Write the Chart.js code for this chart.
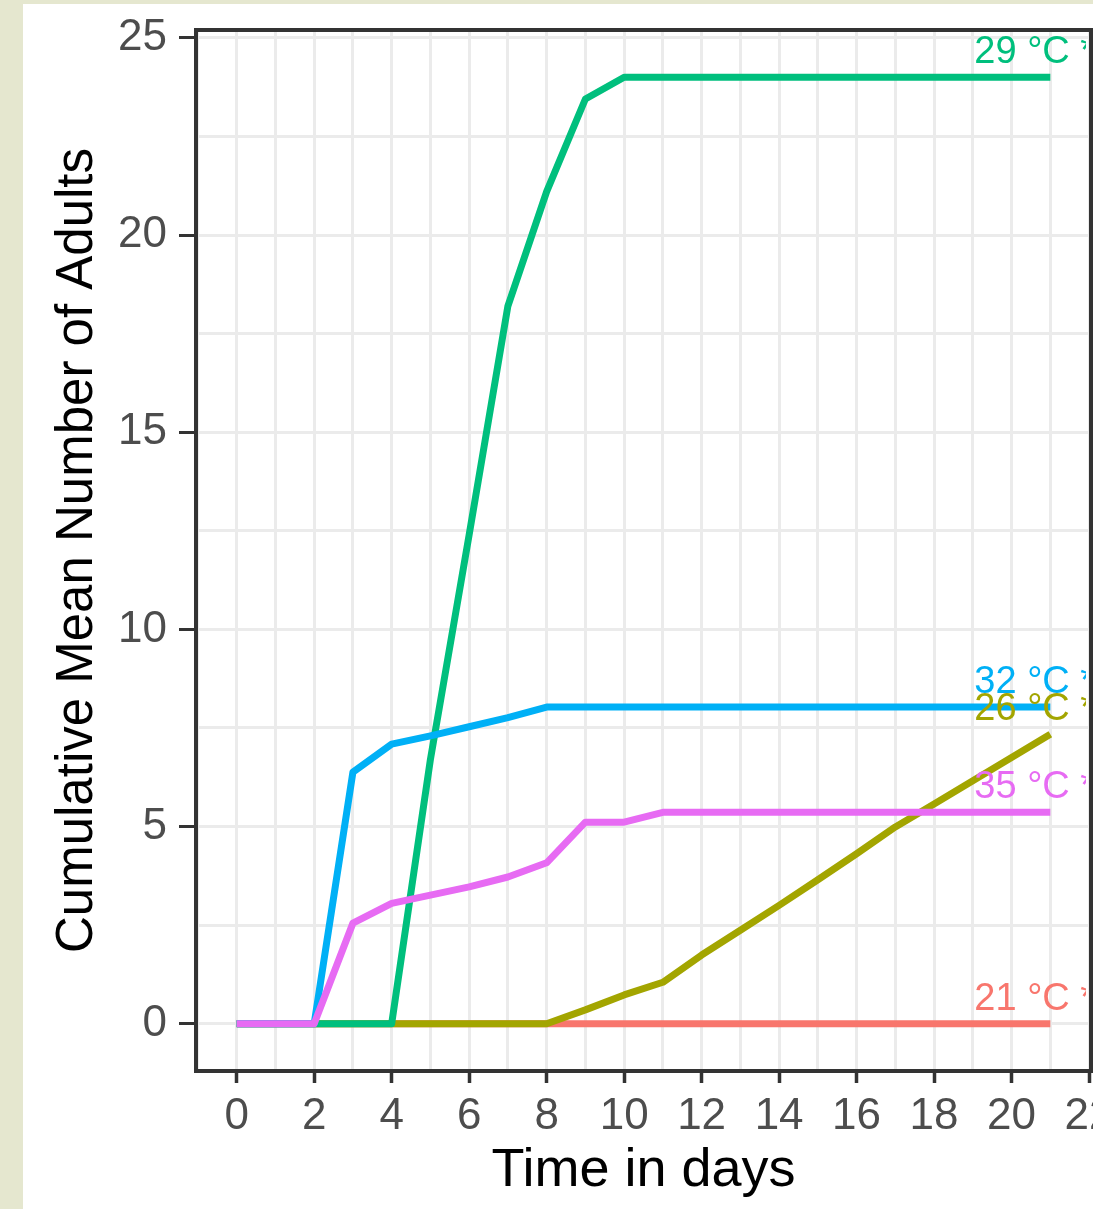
<!DOCTYPE html>
<html>
<head>
<meta charset="utf-8">
<script src="https://cdn.jsdelivr.net/npm/chart.js@4.4.1/dist/chart.umd.min.js"></script>
<style>
  html, body { margin: 0; padding: 0; background: #e5e7cf; overflow: hidden; }
  #wrap { position: absolute; left: 23px; top: 4px; width: 1110px; height: 1205px; background: #ffffff; }
</style>
</head>
<body>
<div id="wrap"><canvas id="adultsChart" width="1110" height="1205"></canvas></div>
<script>
const days = [0, 1, 2, 3, 4, 5, 6, 7, 8, 9, 10, 11, 12, 13, 14, 15, 16, 17, 18, 19, 20, 21];
const temperatures = ['21 °C', '26 °C', '29 °C', '32 °C', '35 °C'];
const colors = ['#F8766D', '#A3A500', '#00BF7D', '#00B0F6', '#E76BF3'];
const lineLabels = ['21 °C *', '26 °C *', '29 °C *', '32 °C *', '35 °C *'];

const adults21 = [0, 0, 0, 0, 0, 0, 0, 0, 0, 0, 0, 0, 0, 0, 0, 0, 0, 0, 0, 0, 0, 0];
const adults26 = [0, 0, 0, 0, 0, 0, 0, 0, 0, 0.35, 0.73, 1.05, 1.74, 2.37, 3.0, 3.65, 4.31, 4.99, 5.57, 6.16, 6.75, 7.34];
const adults29 = [0, 0, 0, 0, 0, 6.7, 12.4, 18.2, 21.1, 23.45, 24, 24, 24, 24, 24, 24, 24, 24, 24, 24, 24, 24];
const adults32 = [0, 0, 0, 6.38, 7.09, 7.3, 7.53, 7.76, 8.03, 8.03, 8.03, 8.03, 8.03, 8.03, 8.03, 8.03, 8.03, 8.03, 8.03, 8.03, 8.03, 8.03];
const adults35 = [0, 0, 0, 2.55, 3.05, 3.26, 3.47, 3.72, 4.08, 5.11, 5.11, 5.36, 5.36, 5.36, 5.36, 5.36, 5.36, 5.36, 5.36, 5.36, 5.36, 5.36];

const allSeries = [adults21, adults26, adults29, adults32, adults35];

const FONT = "'Liberation Sans', Arial, sans-serif";

// labels at the line ends + panel border
const panelPlugin = {
  id: 'panel',
  afterDatasetsDraw(chart) {
    const { ctx, chartArea, scales } = chart;
    ctx.save();
    ctx.beginPath();
    ctx.rect(chartArea.left, chartArea.top, chartArea.right - chartArea.left - 5, chartArea.bottom - chartArea.top);
    ctx.clip();
    ctx.font = '38px ' + FONT;
    ctx.textAlign = 'left';
    ctx.textBaseline = 'alphabetic';
    allSeries.forEach((vals, i) => {
      const last = vals[vals.length - 1];
      ctx.fillStyle = colors[i];
      ctx.fillText(lineLabels[i], scales.x.getPixelForValue(days[days.length - 1]) - 76, scales.y.getPixelForValue(last) - 14);
    });
    ctx.restore();

    ctx.save();
    ctx.strokeStyle = '#333333';
    ctx.lineWidth = 4;
    ctx.strokeRect(chartArea.left, chartArea.top, chartArea.right - chartArea.left, chartArea.bottom - chartArea.top);
    ctx.restore();
  }
};

const ctx = document.getElementById('adultsChart').getContext('2d');
new Chart(ctx, {
  type: 'line',
  data: {
    labels: days,
    datasets: temperatures.map((t, i) => ({
      label: t,
      data: days.map((d, k) => ({ x: d, y: allSeries[i][k] })),
      borderColor: colors[i],
      backgroundColor: colors[i],
      borderWidth: 7,
      borderCapStyle: 'butt',
      borderJoinStyle: 'round',
      pointRadius: 0,
      tension: 0,
      order: temperatures.length - i
    }))
  },
  options: {
    responsive: false,
    animation: false,
    events: [],
    layout: { padding: { left: 0, right: 42, top: 26, bottom: 0 } },
    plugins: { legend: { display: false }, tooltip: { enabled: false } },
    scales: {
      x: {
        type: 'linear',
        min: -1.05,
        max: 22.05,
        afterFit(scale) { scale.height = 138; },
        ticks: {
          stepSize: 1,
          includeBounds: false,
          autoSkip: false,
          maxRotation: 0,
          padding: 7,
          color: '#4d4d4d',
          font: { family: FONT, size: 44 },
          callback: (v) => (v % 2 === 0 ? String(v) : '')
        },
        grid: {
          color: '#ebebeb',
          lineWidth: 3,
          tickLength: 12,
          tickWidth: 3.5,
          tickColor: (c) => (c.tick && c.tick.value % 2 === 0 ? '#333333' : 'rgba(0,0,0,0)')
        },
        border: { display: false },
        title: {
          display: true,
          text: 'Time in days',
          color: '#000000',
          font: { family: FONT, size: 54 },
          padding: { top: 0, bottom: 5 }
        }
      },
      y: {
        type: 'linear',
        min: -1.2,
        max: 25.2,
        afterFit(scale) { scale.width = 173; },
        ticks: {
          stepSize: 2.5,
          includeBounds: false,
          autoSkip: false,
          padding: 12,
          color: '#4d4d4d',
          font: { family: FONT, size: 44, lineHeight: 0.5 },
          callback: (v) => (v % 5 === 0 ? String(v) : '')
        },
        grid: {
          color: '#ebebeb',
          lineWidth: 3,
          tickLength: 17,
          tickWidth: 3,
          tickColor: (c) => (c.tick && c.tick.value % 5 === 0 ? '#333333' : 'rgba(0,0,0,0)')
        },
        border: { display: false },
        title: {
          display: true,
          text: 'Cumulative Mean Number of Adults',
          color: '#000000',
          font: { family: FONT, size: 51 },
          padding: { top: 24, bottom: 0 }
        }
      }
    }
  },
  plugins: [panelPlugin]
});
</script>
</body>
</html>
